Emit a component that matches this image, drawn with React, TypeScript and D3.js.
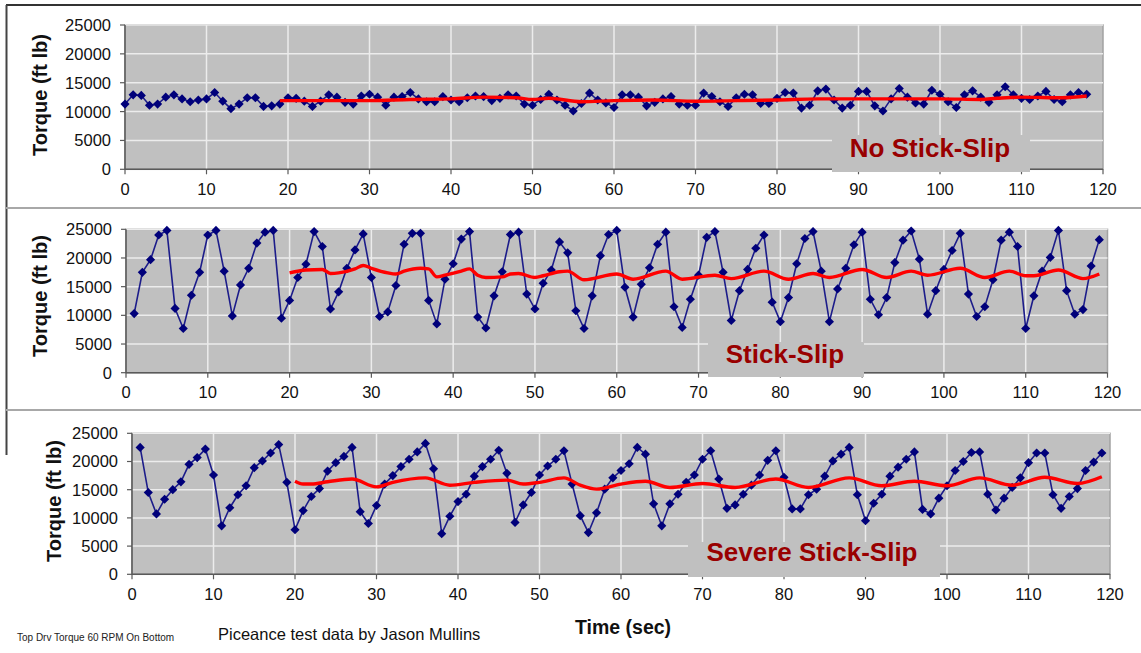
import React from "react";
import * as d3 from "d3";

// ---------- DATA ----------
const xTicks = [0, 10, 20, 30, 40, 50, 60, 70, 80, 90, 100, 110, 120];
const yTicks = [0, 5000, 10000, 15000, 20000, 25000];

// No Stick-Slip: torque at t = 0..118 s
const noStickStart = 0;
const noStickTorque = [
  11300, 12900, 12800, 11100, 11300, 12500, 12900, 12200, 11700, 12000,
  12200, 13300, 11800, 10500, 11300, 12400, 12400, 10900, 11000, 11300,
  12400, 12300, 11800, 10900, 11800, 12900, 12500, 11600, 11300, 12700,
  13000, 12500, 11100, 12500, 12600, 13300, 12200, 11700, 11700, 12600,
  12000, 11700, 12400, 12700, 12600, 11900, 12300, 12900, 12700, 11300,
  11100, 12100, 13000, 12000, 11100, 10100, 11400, 13200, 12000, 11500,
  10700, 12900, 12900, 12500, 11000, 11600, 12200, 12600, 11300, 11100,
  11100, 13200, 12600, 11700, 10900, 12400, 13000, 12900, 11400, 11400,
  12300, 13300, 13200, 10600, 11100, 13600, 13900, 12000, 10600, 11100,
  13500, 13500, 11000, 10100, 12200, 14000, 12500, 11500, 11300, 13700,
  13000, 11700, 10700, 12900, 13600, 12500, 11600, 12900, 14300, 12900,
  12300, 12100, 12700, 13500, 12100, 11700, 12900, 13300, 13000,
];
const noStickTrend: [number, number][] = [
  [19, 11900], [25, 11900], [30, 11900], [35, 12100], [40, 12200], [44, 12500],
  [48, 12400], [50, 12100], [52, 12300], [56, 11700], [60, 11900], [65, 12000],
  [70, 11800], [75, 11900], [80, 12000], [85, 12200], [90, 12200], [95, 12200],
  [100, 12200], [105, 12100], [107, 12300], [110, 12500], [115, 12400], [118, 12700],
];

// Stick-Slip: torque at t = 1..119 s
const stickStart = 1;
const stickTorque = [
  10300, 17500, 19700, 24000, 24800, 11200, 7700, 13500, 17500, 24000,
  24800, 17700, 9900, 15300, 18200, 22600, 24500, 24800, 9500, 12600,
  16600, 18900, 24600, 22000, 11100, 14100, 18200, 21400, 24200, 16600,
  9800, 10600, 15200, 22400, 24300, 24300, 12600, 8500, 16300, 19000,
  23300, 24600, 9700, 7800, 13400, 17600, 24100, 24500, 13700, 11100,
  15600, 17900, 22800, 20900, 10800, 7700, 13400, 20400, 24100, 24800,
  14900, 9700, 15400, 18300, 22400, 24500, 11500, 7900, 12800, 17000,
  23600, 24600, 17500, 9100, 14300, 18000, 21700, 24000, 12300, 8900,
  13100, 19000, 23400, 24600, 17700, 8900, 14600, 18200, 22300, 24500,
  12800, 10100, 13100, 19200, 23100, 24700, 19800, 10200, 14300, 18000,
  21300, 24300, 13700, 9800, 11500, 16200, 23100, 24500, 22000, 7700,
  13400, 17700, 20100, 24800, 14300, 10200, 11000, 18600, 23200,
];
const stickTrend: [number, number][] = [
  [20, 17400], [22, 17900], [24, 18000], [25, 17300], [26, 17400], [28, 18100],
  [29, 18700], [30, 18200], [32, 17400], [33, 17200], [34, 17700], [36, 18200],
  [37, 18100], [38, 16700], [39, 17000], [41, 17700], [42, 18100], [43, 17000],
  [44, 16600], [46, 16700], [47, 17200], [48, 17300], [50, 16600], [51, 16900],
  [53, 17600], [54, 17700], [56, 16200], [60, 17200], [62, 16300], [66, 17700],
  [68, 16300], [72, 17000], [74, 16400], [78, 17700], [81, 16300], [84, 17300],
  [86, 16600], [90, 18000], [93, 16600], [96, 17700], [98, 17000], [102, 18200],
  [105, 16600], [108, 17700], [110, 16900], [111, 16900], [114, 17900],
  [117, 16400], [119, 17200],
];

// Severe Stick-Slip: torque at t = 1..119 s
const severeStart = 1;
const severeTorque = [
  22500, 14500, 10700, 13300, 15000, 16400, 19500, 20700, 22200, 17600,
  8600, 11800, 14100, 15700, 18900, 20100, 21500, 23000, 16300, 7900,
  11300, 13800, 15200, 18300, 19800, 20900, 22500, 11100, 9000, 12200,
  16000, 17500, 19100, 20400, 21700, 23200, 18700, 7200, 10300, 12900,
  14200, 17400, 19100, 20400, 22000, 17900, 9200, 12300, 14500, 17600,
  19200, 20400, 21900, 16000, 10400, 7400, 10900, 15100, 17100, 18400,
  19600, 22500, 21300, 12500, 8600, 12500, 14200, 16300, 17600, 20400,
  21900, 16900, 11700, 12300, 14200, 15800, 17600, 20200, 21900, 17200,
  11600, 11600, 14100, 15100, 17400, 20100, 21300, 22500, 14100, 9500,
  12600, 14200, 17400, 19000, 20400, 21700, 11500, 10700, 13500, 15700,
  18400, 20000, 21600, 21700, 14200, 11400, 13500, 15400, 17100, 19800,
  21500, 21500, 14100, 11700, 13800, 15200, 18400, 19900, 21500,
];
const severeTrend: [number, number][] = [
  [20, 16500], [21, 16000], [22, 16000], [24, 16400], [27, 16900], [30, 15500],
  [32, 16300], [36, 17100], [39, 15800], [42, 16300], [46, 16700], [48, 16000],
  [50, 16300], [53, 17100], [55, 15800], [57, 15100], [60, 16000], [63, 16500],
  [66, 15400], [70, 16100], [74, 15400], [79, 16900], [83, 15400], [88, 17100],
  [92, 15700], [96, 16500], [100, 15700], [104, 17100], [108, 15800], [112, 17200],
  [116, 16100], [119, 17300],
];

const yTitle = "Torque (ft lb)";
const xTitle = "Time (sec)";
const footSmall = "Top Drv Torque 60 RPM On Bottom";
const footCredit = "Piceance test data by Jason Mullins";

// ---------- LAYOUT / STYLE ----------
const FONT = "'Liberation Sans', Arial, Helvetica, sans-serif";
const DARK_RED = "#990000";

type Panel = {
  start: number;
  values: number[];
  trend: [number, number][];
  label: string;
  left: number;
  right: number;
  top: number;
  bottom: number;
  titleX: number;
  titleY: number;
  box: { x: number; y: number; w: number; h: number };
  labelX: number;
  labelY: number;
};

const panels: Panel[] = [
  {
    start: noStickStart, values: noStickTorque, trend: noStickTrend, label: "No Stick-Slip",
    left: 125, right: 1103, top: 25, bottom: 169.3, titleX: 40, titleY: 95,
    box: { x: 832, y: 135, w: 198, h: 37 }, labelX: 930, labelY: 157,
  },
  {
    start: stickStart, values: stickTorque, trend: stickTrend, label: "Stick-Slip",
    left: 126, right: 1107.5, top: 229.3, bottom: 372.7, titleX: 40, titleY: 296,
    box: { x: 708, y: 342, w: 156, h: 35 }, labelX: 785, labelY: 363,
  },
  {
    start: severeStart, values: severeTorque, trend: severeTrend, label: "Severe Stick-Slip",
    left: 132, right: 1110, top: 433.3, bottom: 574.3, titleX: 54, titleY: 501,
    box: { x: 688, y: 542, w: 252, h: 35 }, labelX: 812, labelY: 561,
  },
];

const diamond = d3.symbol().type(d3.symbolSquare).size(42)() as string;

function PanelChart({ p }: { p: Panel }) {
  const x = d3.scaleLinear().domain([0, 120]).range([p.left, p.right]);
  const y = d3.scaleLinear().domain([0, 25000]).range([p.bottom, p.top]);
  const pts = p.values.map((v, i) => [p.start + i, v] as [number, number]);
  const line = d3
    .line<[number, number]>()
    .x((d) => x(d[0]))
    .y((d) => y(d[1]));
  const trendLine = d3
    .line<[number, number]>()
    .x((d) => x(d[0]))
    .y((d) => y(d[1]))
    .curve(d3.curveMonotoneX);
  return (
    <g>
      <rect
        x={p.left}
        y={p.top}
        width={p.right - p.left}
        height={p.bottom - p.top}
        fill="#c0c0c0"
        stroke="#a2a2a2"
        strokeWidth={1.5}
      />
      {yTicks.slice(1).map((t) => (
        <line key={"hy" + t} x1={p.left} x2={p.right} y1={y(t)} y2={y(t)} stroke="#ececec" strokeWidth={1.5} />
      ))}
      {xTicks.slice(1, -1).map((t) => (
        <line key={"vx" + t} x1={x(t)} x2={x(t)} y1={p.top} y2={p.bottom} stroke="#ececec" strokeWidth={1.5} />
      ))}
      {/* axes */}
      <line x1={p.left} x2={p.left} y1={p.top} y2={p.bottom} stroke="#5a5a5a" strokeWidth={1.5} />
      <line x1={p.left} x2={p.right} y1={p.bottom} y2={p.bottom} stroke="#5a5a5a" strokeWidth={1.5} />
      {yTicks.map((t) => (
        <g key={"yt" + t}>
          <line x1={p.left - 5} x2={p.left} y1={y(t)} y2={y(t)} stroke="#5a5a5a" strokeWidth={1.2} />
          <text x={p.left - 14} y={y(t)} dy="0.36em" textAnchor="end" fontSize={16.5} fill="#111" fontFamily={FONT}>
            {t}
          </text>
        </g>
      ))}
      {xTicks.map((t) => (
        <g key={"xt" + t}>
          <line x1={x(t)} x2={x(t)} y1={p.bottom} y2={p.bottom + 5} stroke="#5a5a5a" strokeWidth={1.2} />
          <text x={x(t)} y={p.bottom + 25.5} textAnchor="middle" fontSize={16.5} fill="#111" fontFamily={FONT}>
            {t}
          </text>
        </g>
      ))}
      <text
        transform={`translate(${p.titleX},${p.titleY}) rotate(-90)`}
        textAnchor="middle"
        dy="0.36em"
        fontSize={20}
        fontWeight="bold"
        fill="#111"
        fontFamily={FONT}
      >
        {yTitle}
      </text>
      {/* data */}
      <path d={line(pts) || ""} fill="none" stroke="#1c1c8a" strokeWidth={1.6} />
      {pts.map((d, i) => (
        <path
          key={"m" + i}
          d={diamond}
          transform={`translate(${x(d[0])},${y(d[1])}) rotate(45)`}
          fill="#00007a"
        />
      ))}
      <path d={trendLine(p.trend) || ""} fill="none" stroke="#ff0000" strokeWidth={3.4} strokeLinejoin="round" />
      {/* label box */}
      <rect x={p.box.x} y={p.box.y} width={p.box.w} height={p.box.h} fill="#c0c0c0" />
      <text x={p.labelX} y={p.labelY} textAnchor="middle" fontSize={26} fontWeight="bold" fill={DARK_RED} fontFamily={FONT}>
        {p.label}
      </text>
    </g>
  );
}

export default function App() {
  return (
    <svg
      width={1141}
      height={653}
      viewBox="0 0 1141 653"
      style={{ position: "absolute", left: 0, top: 0, background: "#fff" }}
    >
      <rect x={0} y={0} width={1141} height={653} fill="#fff" />
      {/* frame lines */}
      <line x1={6} x2={1141} y1={5} y2={5} stroke="#333" strokeWidth={2} />
      <line x1={6.5} x2={6.5} y1={5} y2={455} stroke="#444" strokeWidth={2} />
      <line x1={6} x2={1141} y1={208} y2={208} stroke="#a8a8a8" strokeWidth={2} />
      <line x1={6} x2={1141} y1={410} y2={410} stroke="#a8a8a8" strokeWidth={2} />
      {panels.map((p, i) => (
        <PanelChart key={i} p={p} />
      ))}
      <text x={17} y={641} fontSize={10} fill="#222" fontFamily={FONT}>
        {footSmall}
      </text>
      <text x={218} y={640} fontSize={16.5} fill="#111" fontFamily={FONT}>
        {footCredit}
      </text>
      <text x={575} y={634} fontSize={19.5} fontWeight="bold" fill="#111" fontFamily={FONT}>
        {xTitle}
      </text>
    </svg>
  );
}
